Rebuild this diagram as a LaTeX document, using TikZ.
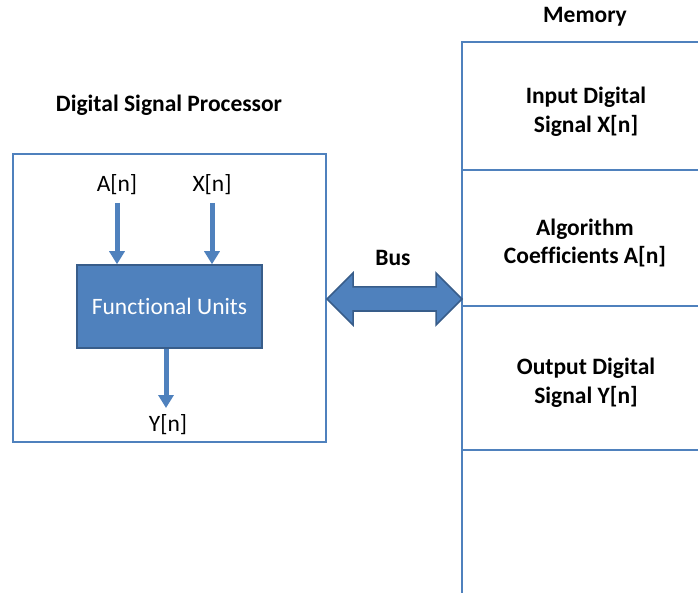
\documentclass[tikz,border=0pt]{standalone}
\usepackage{fontspec}
\setmainfont[Ligatures=NoCommon]{Carlito}
\usetikzlibrary{arrows.meta,calc}
\definecolor{blu}{HTML}{4F81BD}
\definecolor{dblu}{HTML}{385D8A}
\begin{document}
\begin{tikzpicture}[x=1pt,y=-1pt,
  txt/.style={font=\fontsize{23.5}{28.7}\selectfont, inner sep=0pt, align=center},
  btxt/.style={txt, font=\fontsize{23.5}{28.7}\selectfont\bfseries},
  sigarrow/.style={draw=blu, line width=5pt, -{Triangle[width=15pt,length=13pt]}},
  boxline/.style={draw=blu, line width=2pt},
  divline/.style={draw=blu, line width=1.2pt}]
\useasboundingbox (0,0) rectangle (698,593);
\fill[white] (0,0) rectangle (698,593);
% DSP
\node[boxline, minimum width=313pt, minimum height=288pt, inner sep=0pt] (dsp) at (169.5,298) {};
\node[btxt] (dsptitle) at (169,105) {Digital Signal Processor};
\node[fill=blu, draw=dblu, line width=1.5pt, minimum width=185pt, minimum height=83pt, inner sep=0pt,
      text=white, font=\fontsize{23.5}{28.7}\selectfont] (fu) at (169.5,306.5) {Functional Units};
\node[txt] (an) at (117,185) {A[n]};
\node[txt] (xn) at (212,185) {X[n]};
\node[txt] (yn) at (168,425) {Y[n]};
\coordinate (astart) at (117,203);
\coordinate (xstart) at (212,203);
\coordinate (yend) at (166,408);
\draw[sigarrow] (astart) -- (astart |- fu.north);
\draw[sigarrow] (xstart) -- (xstart |- fu.north);
\draw[sigarrow] (fu.south -| yend) -- (yend);
% Memory
\coordinate (memtl) at (462,42);
\coordinate (membl) at (462,600);
\coordinate (memtr) at (705,42);
\draw[boxline] (membl) -- (memtl) -- (memtr);
\coordinate (d1) at (462,170);
\coordinate (d2) at (462,306);
\coordinate (d3) at (462,450);
\draw[divline] (d1) -- ++(250,0);
\draw[divline] (d2) -- ++(250,0);
\draw[divline] (d3) -- ++(250,0);
\node[btxt] (memlabel) at (585,17) {Memory};
\node[btxt] (cell1) at (586,112) {Input Digital\\Signal X[n]};
\node[btxt] (cell2) at (585,243) {Algorithm\\Coefficients A[n]};
\node[btxt] (cell3) at (586,383) {Output Digital\\Signal Y[n]};
% Bus
\coordinate (busL) at (dsp.east |- 0,299);
\coordinate (busR) at (memtl |- 0,299);
\draw[fill=blu, draw=dblu, line width=1.5pt, line join=miter]
  (busL) -- ($(busL)+(26,-26)$) -- ($(busL)+(26,-12)$) -- ($(busR)+(-26,-12)$)
  -- ($(busR)+(-26,-26)$) -- (busR) -- ($(busR)+(-26,26)$) -- ($(busR)+(-26,12)$)
  -- ($(busL)+(26,12)$) -- ($(busL)+(26,26)$) -- cycle;
\node[btxt] (buslabel) at (393,258) {Bus};
\end{tikzpicture}
\end{document}
